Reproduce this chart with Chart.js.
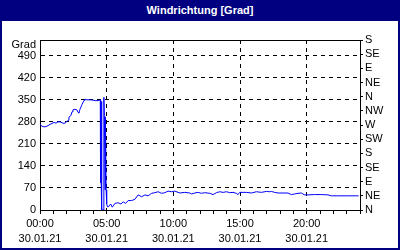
<!DOCTYPE html>
<html>
<head>
<meta charset="utf-8">
<script src="https://cdn.jsdelivr.net/npm/chart.js@4"></script>
<style>
  body { margin: 0; background: #000080; width: 400px; height: 250px; overflow: hidden; font-family: "Liberation Sans", Arial, sans-serif; }
  #title { position: absolute; left: 0; top: 0; width: 400px; height: 21px; line-height: 20px; color: #fff; font-weight: bold; font-size: 11px; text-align: center; }
  #box { position: absolute; left: 2px; top: 21px; width: 396px; height: 227px; background: #fff; }
</style>
</head>
<body>
<div id="title">Windrichtung [Grad]</div>
<div id="box"><canvas id="myChart" width="396" height="227"></canvas></div>
<script>
// hours since 00:00 on 30.01.21
const hours = [
  0.00, 0.15, 0.30, 0.45, 0.60, 0.75, 0.90, 1.05, 1.20, 1.35, 1.50, 1.65, 1.80, 1.95,
  2.10, 2.17, 2.32, 2.40, 2.47, 2.62, 2.77, 2.85, 2.92, 3.00, 3.15, 3.30, 3.37, 3.52,
  3.75, 3.97, 4.19, 4.42, 4.52, 4.54, 4.59, 4.61, 4.64, 4.76, 4.79, 4.83, 4.88, 4.91,
  4.96, 5.00, 5.06, 5.12, 5.30, 5.42, 5.62, 5.87, 6.07, 6.24, 6.42, 6.61, 6.87, 7.12,
  7.36, 7.62, 7.87, 8.11, 8.37, 8.61, 8.86, 9.12, 9.36, 9.61, 9.87, 10.11, 10.49, 10.86,
  11.24, 11.36, 11.61, 11.86, 12.11, 12.36, 12.73, 12.98, 13.24, 13.48, 13.73, 13.99,
  14.23, 14.48, 14.73, 14.85, 14.98, 15.48, 15.86, 16.23, 16.61, 16.98, 17.23, 17.35,
  17.60, 17.85, 18.22, 18.60, 18.85, 19.10, 19.35, 19.60, 19.72, 19.85, 20.10, 20.60,
  21.10, 21.60, 21.85, 22.34, 23.09, 23.90
];
const degrees = [
  272, 266, 264, 265, 268, 272, 275, 278, 276, 280, 280, 277, 275, 278,
  285, 295, 300, 312, 318, 320, 318, 310, 308, 320, 335, 348, 352, 350,
  350, 349, 347, 348, 350, 87, 87, 345, 0, 0, 358, 300, 64, 296,
  64, 20, 10, 10, 19, 9, 21, 23, 19, 26, 21, 30, 30, 34,
  48, 42, 48, 45, 53, 55, 58, 53, 55, 60, 58, 60, 54, 56,
  54, 51, 54, 56, 53, 55, 53, 49, 55, 58, 56, 58,
  55, 56, 53, 49, 56, 56, 54, 58, 56, 59, 58, 59,
  56, 54, 54, 54, 49, 51, 53, 54, 51, 48, 48, 49,
  49, 48, 45, 45, 45, 45
];
const leftTicks = [0, 70, 140, 210, 280, 350, 420, 490];
const compass = ["N", "NE", "E", "SE", "S", "SW", "W", "NW", "N", "NE", "E", "SE", "S"];
const timeLabels = ["00:00", "05:00", "10:00", "15:00", "20:00"];
const dateLabel = "30.01.21";

Chart.defaults.font.family = "'Liberation Sans', Arial, sans-serif";
Chart.defaults.font.size = 11;
Chart.defaults.color = "#000";

const clear = "rgba(0,0,0,0)";

// top frame line and the "Grad" unit label
const frame = {
  id: "frame",
  afterDraw(chart) {
    const { ctx, chartArea: a } = chart;
    ctx.save();
    ctx.strokeStyle = "#000";
    ctx.lineWidth = 1;
    ctx.beginPath();
    ctx.moveTo(a.left, a.top + 0.5);
    ctx.lineTo(a.right + 1, a.top + 0.5);
    ctx.stroke();
    ctx.font = "11px 'Liberation Sans', Arial, sans-serif";
    ctx.fillStyle = "#000";
    ctx.textAlign = "right";
    ctx.textBaseline = "middle";
    ctx.fillText("Grad", a.left - 4, a.top + 5);
    ctx.restore();
  }
};

const ctx = document.getElementById("myChart");

new Chart(ctx, {
  type: "line",
  data: {
    datasets: [
      {
        data: hours.map((h, i) => ({ x: h, y: degrees[i] })),
        borderColor: "#0000ff",
        borderWidth: 1,
        pointRadius: 0,
        tension: 0,
        fill: false
      }
    ]
  },
  options: {
    responsive: false,
    animation: false,
    layout: { padding: { top: 19, left: 0, right: 0, bottom: 0 } },
    plugins: { legend: { display: false }, tooltip: { enabled: false } },
    scales: {
      x: {
        type: "linear",
        min: 0,
        max: 24,
        ticks: {
          stepSize: 1,
          autoSkip: false,
          maxRotation: 0,
          padding: 2,
          font: { size: 11, lineHeight: 1.42 },
          callback: v => {
            const h = Math.round(v);
            return h % 5 === 0 && h < 24 ? [timeLabels[h / 5], dateLabel] : "";
          }
        },
        grid: {
          color: c => {
            const v = c.tick ? Math.round(c.tick.value) : 0;
            return v % 5 === 0 && v > 0 && v < 24 ? "#000" : clear;
          },
          tickColor: "#000",
          tickLength: 4
        },
        border: { color: "#000", dash: [4, 4] },
        afterFit: s => { s.height = 38; }
      },
      y: {
        position: "left",
        min: 0,
        max: 540,
        afterBuildTicks: s => { s.ticks = leftTicks.map(v => ({ value: v })); },
        ticks: { padding: 4, autoSkip: false },
        grid: {
          drawTicks: false,
          color: c => (c.tick && c.tick.value > 0 ? "#000" : clear)
        },
        border: { color: "#000", dash: [4, 4] },
        afterFit: s => { s.width = 38; }
      },
      y2: {
        position: "right",
        min: 0,
        max: 540,
        afterBuildTicks: s => { s.ticks = compass.map((_, i) => ({ value: i * 45 })); },
        ticks: {
          padding: 2,
          autoSkip: false,
          callback: v => compass[Math.round(v / 45)]
        },
        grid: { drawOnChartArea: false, tickLength: 3, color: "#000" },
        border: { color: "#000" },
        afterFit: s => { s.width = 38; }
      }
    }
  },
  plugins: [frame]
});
</script>
</body>
</html>
